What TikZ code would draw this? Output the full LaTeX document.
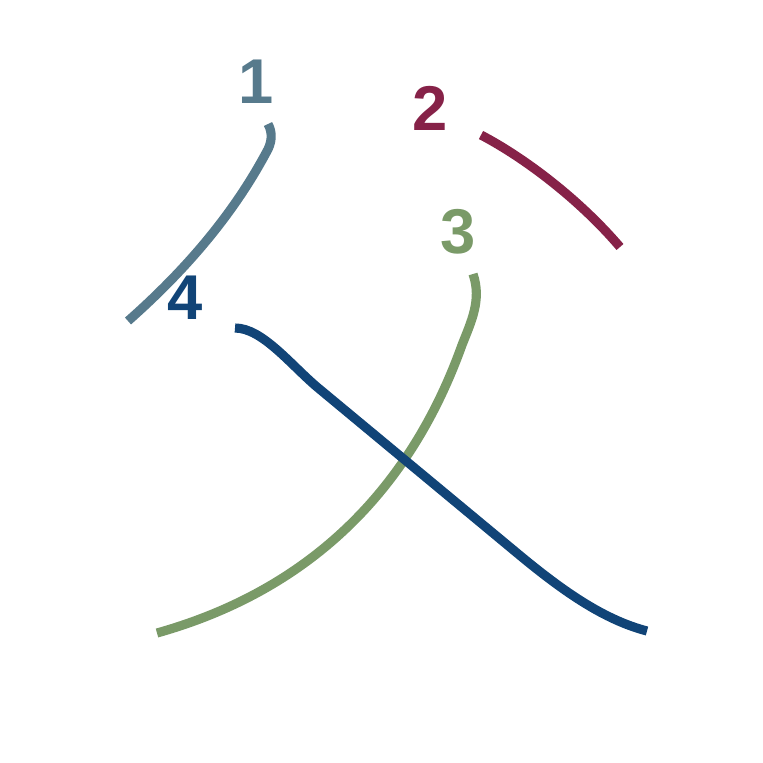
\documentclass[tikz,border=0pt]{standalone}
\usepackage{fontspec}
\setmainfont{Liberation Sans}
\usepackage{tikz}
\usetikzlibrary{positioning}
\definecolor{strokeA}{HTML}{577A8C}
\definecolor{strokeB}{HTML}{862248}
\definecolor{strokeC}{HTML}{7A9A68}
\definecolor{strokeD}{HTML}{114477}

\begin{document}
\begin{tikzpicture}[x=0.01cm,y=-0.01cm,
  stroke/.style={line width=2.6pt,line cap=butt},
  num/.style={font=\fontsize{18}{18}\selectfont\bfseries,inner sep=0pt}]
\useasboundingbox (0,0) rectangle (763,763);
\node[num,text=strokeA] (n1) at (256,82) {1};
\node[num,text=strokeB] (n2) at (430,108) {2};
\node[num,text=strokeC] (n3) at (458,232) {3};
\node[num,text=strokeD] (n4) at (185,298) {4};
\draw[stroke,strokeA] (268,124) .. controls (273,133) and (272,143) .. (266,153) .. controls (230,220) and (180,275) .. (128,321);
\draw[stroke,strokeB] (481,135) .. controls (525,158) and (580,200) .. (620,247);
\draw[stroke,strokeC] (473,274) .. controls (482,300) and (471,322) .. (462,345) .. controls (410,490) and (310,590) .. (157,633);
\draw[stroke,strokeD] (235,328) .. controls (262,328) and (290,364) .. (317,387) -- (517,553) .. controls (565,593) and (605,620) .. (647,631);
\end{tikzpicture}
\end{document}
